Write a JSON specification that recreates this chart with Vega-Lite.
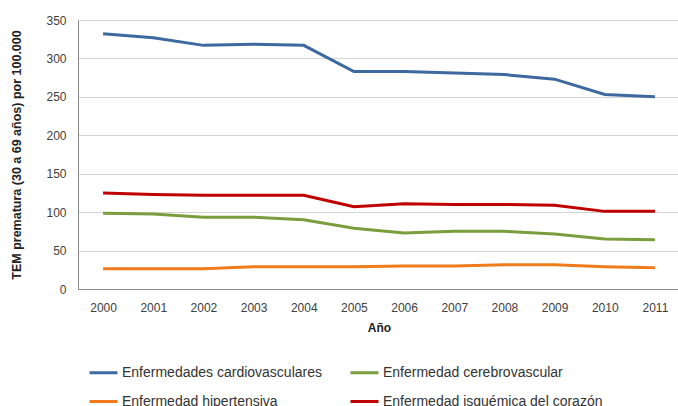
{
  "$schema": "https://vega.github.io/schema/vega-lite/v6.json",
  "autosize": "none",
  "width": 602,
  "height": 269,
  "padding": {"left": 78, "top": 20, "right": 0, "bottom": 117},
  "background": "white",
  "config": {
    "font": "Liberation Sans",
    "view": {"stroke": null},
    "axis": {"labelColor": "#404040", "titleColor": "#222222"}
  },
  "data": {
    "values": [
      {"anio": "2000", "serie": "Enfermedades cardiovasculares", "valor": 332},
      {"anio": "2001", "serie": "Enfermedades cardiovasculares", "valor": 327},
      {"anio": "2002", "serie": "Enfermedades cardiovasculares", "valor": 317},
      {"anio": "2003", "serie": "Enfermedades cardiovasculares", "valor": 318.5},
      {"anio": "2004", "serie": "Enfermedades cardiovasculares", "valor": 317},
      {"anio": "2005", "serie": "Enfermedades cardiovasculares", "valor": 283},
      {"anio": "2006", "serie": "Enfermedades cardiovasculares", "valor": 283},
      {"anio": "2007", "serie": "Enfermedades cardiovasculares", "valor": 281},
      {"anio": "2008", "serie": "Enfermedades cardiovasculares", "valor": 279},
      {"anio": "2009", "serie": "Enfermedades cardiovasculares", "valor": 273},
      {"anio": "2010", "serie": "Enfermedades cardiovasculares", "valor": 253},
      {"anio": "2011", "serie": "Enfermedades cardiovasculares", "valor": 250},
      {"anio": "2000", "serie": "Enfermedad cerebrovascular", "valor": 98.5},
      {"anio": "2001", "serie": "Enfermedad cerebrovascular", "valor": 97.5},
      {"anio": "2002", "serie": "Enfermedad cerebrovascular", "valor": 93.5},
      {"anio": "2003", "serie": "Enfermedad cerebrovascular", "valor": 93.5},
      {"anio": "2004", "serie": "Enfermedad cerebrovascular", "valor": 90},
      {"anio": "2005", "serie": "Enfermedad cerebrovascular", "valor": 79},
      {"anio": "2006", "serie": "Enfermedad cerebrovascular", "valor": 73},
      {"anio": "2007", "serie": "Enfermedad cerebrovascular", "valor": 75},
      {"anio": "2008", "serie": "Enfermedad cerebrovascular", "valor": 75},
      {"anio": "2009", "serie": "Enfermedad cerebrovascular", "valor": 71.5},
      {"anio": "2010", "serie": "Enfermedad cerebrovascular", "valor": 65},
      {"anio": "2011", "serie": "Enfermedad cerebrovascular", "valor": 64},
      {"anio": "2000", "serie": "Enfermedad hipertensiva", "valor": 26.5},
      {"anio": "2001", "serie": "Enfermedad hipertensiva", "valor": 26.5},
      {"anio": "2002", "serie": "Enfermedad hipertensiva", "valor": 26.5},
      {"anio": "2003", "serie": "Enfermedad hipertensiva", "valor": 29},
      {"anio": "2004", "serie": "Enfermedad hipertensiva", "valor": 29},
      {"anio": "2005", "serie": "Enfermedad hipertensiva", "valor": 29},
      {"anio": "2006", "serie": "Enfermedad hipertensiva", "valor": 30},
      {"anio": "2007", "serie": "Enfermedad hipertensiva", "valor": 30},
      {"anio": "2008", "serie": "Enfermedad hipertensiva", "valor": 31.5},
      {"anio": "2009", "serie": "Enfermedad hipertensiva", "valor": 31.5},
      {"anio": "2010", "serie": "Enfermedad hipertensiva", "valor": 29},
      {"anio": "2011", "serie": "Enfermedad hipertensiva", "valor": 27.5},
      {"anio": "2000", "serie": "Enfermedad isquémica del corazón", "valor": 125},
      {"anio": "2001", "serie": "Enfermedad isquémica del corazón", "valor": 123},
      {"anio": "2002", "serie": "Enfermedad isquémica del corazón", "valor": 122},
      {"anio": "2003", "serie": "Enfermedad isquémica del corazón", "valor": 122},
      {"anio": "2004", "serie": "Enfermedad isquémica del corazón", "valor": 122},
      {"anio": "2005", "serie": "Enfermedad isquémica del corazón", "valor": 107},
      {"anio": "2006", "serie": "Enfermedad isquémica del corazón", "valor": 111},
      {"anio": "2007", "serie": "Enfermedad isquémica del corazón", "valor": 110},
      {"anio": "2008", "serie": "Enfermedad isquémica del corazón", "valor": 110},
      {"anio": "2009", "serie": "Enfermedad isquémica del corazón", "valor": 109},
      {"anio": "2010", "serie": "Enfermedad isquémica del corazón", "valor": 101},
      {"anio": "2011", "serie": "Enfermedad isquémica del corazón", "valor": 101}
    ]
  },
  "mark": {"type": "line", "strokeWidth": 3},
  "encoding": {
    "x": {
      "field": "anio",
      "type": "ordinal",
      "scale": {"type": "point", "padding": 0.5},
      "axis": {
        "title": "Año",
        "labelAngle": 0,
        "labelFontSize": 12,
        "labelPadding": 13,
        "ticks": false,
        "grid": false,
        "domainColor": "#888888",
        "titleFontSize": 12,
        "titleFontWeight": "bold",
        "titlePadding": 9
      }
    },
    "y": {
      "field": "valor",
      "type": "quantitative",
      "scale": {"domain": [0, 350], "nice": false},
      "axis": {
        "title": "TEM prematura (30 a 69 años) por 100.000",
        "values": [0, 50, 100, 150, 200, 250, 300, 350],
        "labelFontSize": 12,
        "labelPadding": 12,
        "ticks": false,
        "domainColor": "#888888",
        "gridColor": "#d4d4d4",
        "titleFontSize": 12.5,
        "titleFontWeight": "bold",
        "titlePadding": 22
      }
    },
    "color": {
      "field": "serie",
      "type": "nominal",
      "scale": {
        "domain": ["Enfermedades cardiovasculares", "Enfermedad cerebrovascular", "Enfermedad hipertensiva", "Enfermedad isquémica del corazón"],
        "range": ["#3D68A0", "#7A9E3E", "#F07B1C", "#C00000"]
      },
      "legend": {
        "title": null,
        "orient": "none",
        "legendX": 10,
        "legendY": 337,
        "direction": "horizontal",
        "columns": 2,
        "columnPadding": 22,
        "rowPadding": 6,
        "symbolType": "stroke",
        "symbolSize": 784,
        "symbolStrokeWidth": 3,
        "labelFontSize": 14,
        "labelColor": "#333333",
        "labelOffset": 3,
        "labelLimit": 400
      }
    }
  }
}
